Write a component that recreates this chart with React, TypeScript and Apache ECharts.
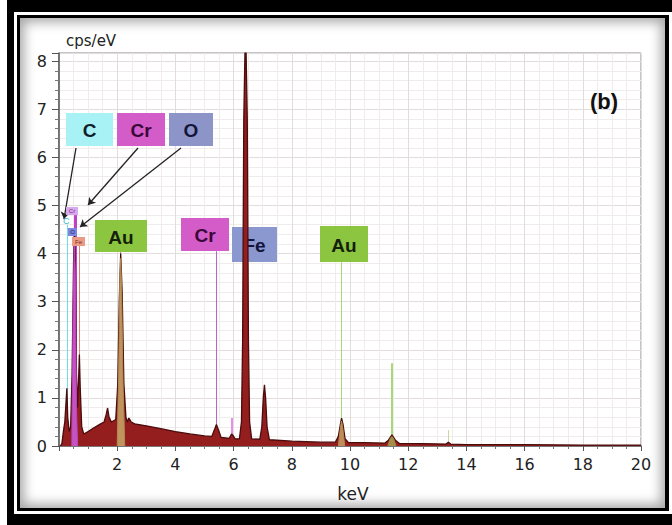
import React, { useEffect, useRef } from "react";
import * as echarts from "echarts";

// EDS spectrum (keV, cps/eV)
const spectrum: [number, number][] = [
  [0.05, 0.0], [0.1, 0.05], [0.15, 0.3], [0.2, 0.5], [0.24, 0.9], [0.27, 1.2], [0.3, 0.6],
  [0.35, 0.3], [0.4, 0.4], [0.45, 1.5], [0.5, 3.8], [0.525, 4.5], [0.56, 3.9], [0.6, 1.5],
  [0.64, 0.8], [0.68, 1.5], [0.7, 1.9], [0.73, 1.2], [0.78, 0.4], [0.85, 0.25], [1.0, 0.3],
  [1.2, 0.38], [1.4, 0.45], [1.55, 0.5], [1.62, 0.65], [1.67, 0.79], [1.72, 0.6], [1.8, 0.5],
  [1.95, 0.55], [2.02, 1.3], [2.07, 3.0], [2.12, 4.0], [2.17, 3.2], [2.23, 1.3], [2.3, 0.6],
  [2.35, 0.5], [2.4, 0.58], [2.48, 0.5], [2.6, 0.46], [3.0, 0.42], [3.5, 0.36], [4.0, 0.3],
  [4.5, 0.25], [5.0, 0.21], [5.25, 0.2], [5.33, 0.32], [5.41, 0.45], [5.49, 0.32], [5.57, 0.18],
  [5.85, 0.16], [5.93, 0.25], [5.98, 0.22], [6.05, 0.15], [6.2, 0.15], [6.27, 0.5], [6.31, 2.2],
  [6.35, 6.8], [6.39, 8.17], [6.43, 8.17], [6.47, 6.8], [6.51, 2.2], [6.55, 0.5], [6.62, 0.15],
  [6.9, 0.14], [6.97, 0.4], [7.02, 1.0], [7.06, 1.27], [7.1, 1.0], [7.15, 0.4], [7.23, 0.13],
  [8.0, 0.1], [9.0, 0.08], [9.5, 0.08], [9.6, 0.2], [9.67, 0.45], [9.71, 0.58], [9.76, 0.45],
  [9.83, 0.15], [9.95, 0.07], [10.5, 0.07], [11.2, 0.06], [11.32, 0.12], [11.44, 0.23],
  [11.56, 0.12], [11.7, 0.05], [12.5, 0.05], [13.3, 0.04], [13.38, 0.08], [13.46, 0.04],
  [14, 0.03], [16, 0.03], [18, 0.02], [20, 0.02],
];

// Fitted overlays
const auFit: [number, number][] = [
  [2.0, 0], [2.05, 1.5], [2.09, 3.4], [2.12, 3.9], [2.15, 3.3], [2.2, 1.3], [2.26, 0],
];
const auLaFit: [number, number][] = [[9.6, 0], [9.67, 0.38], [9.71, 0.52], [9.75, 0.38], [9.82, 0]];
const auLbFit: [number, number][] = [[11.3, 0], [11.38, 0.15], [11.44, 0.2], [11.5, 0.15], [11.58, 0]];
const lowFit: [number, number][] = [
  [0.44, 0], [0.48, 2.5], [0.525, 4.3], [0.56, 3.6], [0.6, 0.8], [0.64, 0],
];

// Element marker lines
const markerKeV = [0.277, 0.525, 0.573, 0.705, 2.12, 5.41, 5.95, 9.71, 11.44, 13.38];
const markerTop = [4.6, 4.37, 4.8, 4.16, 4.03, 4.05, 0.58, 3.83, 1.72, 0.33];
const markerColor = ["#6fdde6", "#6a78d0", "#c040c8", "#e08070", "#b08a50", "#c060d0", "#e890e8", "#a8d878", "#a8d878", "#c8d8a0"];
const markerWidth = [1, 1, 3, 1, 1, 1, 2, 1, 2, 1];

// Label boxes
const boxText = ["C", "Cr", "O", "Au", "Cr", "Fe", "Au"];
const boxFill = ["#a8f2f6", "#d35cc8", "#8d95c8", "#8cc540", "#d35cc8", "#8b98cf", "#8cc540"];
const boxTextColor = ["#10202a", "#3a0838", "#14143a", "#14200a", "#3a0838", "#14143a", "#14200a"];

const App: React.FC = () => {
  const ref = useRef<HTMLDivElement>(null);
  useEffect(() => {
    if (!ref.current) return;
    const chart = echarts.init(ref.current, undefined, { renderer: "svg" });
    const boxPos = [
      [66, 113, 47, 33], [117, 113, 48, 33], [169, 113, 44, 33],
      [95, 220, 52, 32], [181, 218, 48, 33], [232, 227, 45, 35], [320, 226, 48, 36],
    ];
    const graphics: any[] = [];
    boxText.forEach((t, i) => {
      graphics.push({
        type: "rect", z: 2,
        shape: { x: boxPos[i][0], y: boxPos[i][1], width: boxPos[i][2], height: boxPos[i][3] },
        style: { fill: boxFill[i] },
      });
      graphics.push({
        type: "text", z: 2,
        x: boxPos[i][0] + boxPos[i][2] / 2,
        y: boxPos[i][1] + boxPos[i][3] / 2 + 1,
        style: {
          text: t, fill: boxTextColor[i], font: "bold 19px 'Liberation Sans', Arial, sans-serif",
          align: "center", verticalAlign: "middle",
        },
      });
    });
    // tiny labels near the low-energy peaks
    const tiny = [
      { t: "Cr", x: 66, y: 207, w: 12, h: 8, fill: "#d8a8ec", c: "#7a2a8a" },
      { t: "O", x: 68, y: 228, w: 9, h: 8, fill: "#7a86e0", c: "#202060" },
      { t: "Fe", x: 72, y: 237, w: 13, h: 9, fill: "#eb9a86", c: "#803020" },
    ];
    tiny.forEach((s) => {
      graphics.push({ type: "rect", z: 20, shape: { x: s.x, y: s.y, width: s.w, height: s.h }, style: { fill: s.fill } });
      graphics.push({
        type: "text", z: 20, x: s.x + s.w / 2, y: s.y + s.h / 2,
        style: { text: s.t, fill: s.c, font: "6px sans-serif", align: "center", verticalAlign: "middle" },
      });
    });
    graphics.push({
      type: "text", x: 63, y: 216, z: 20,
      style: { text: "C", fill: "#40b8c8", font: "9px sans-serif" },
    });
    graphics.push({
      type: "text", x: 66, y: 41, z: 20,
      style: { text: "cps/eV", fill: "#222", font: "15px 'DejaVu Sans', sans-serif", verticalAlign: "middle" },
    });
    graphics.push({
      type: "text", x: 353, y: 494, z: 20,
      style: { text: "keV", fill: "#222", font: "17px 'DejaVu Sans', sans-serif", align: "center", verticalAlign: "middle" },
    });
    graphics.push({
      type: "text", x: 604, y: 101, z: 20,
      style: { text: "(b)", fill: "#111", font: "bold 22px 'Liberation Sans', Arial, sans-serif", align: "center", verticalAlign: "middle" },
    });

    const arrows = [
      [[76, 148], [64, 219]],
      [[138, 148], [88, 205]],
      [[181, 148], [80, 227]],
    ];

    chart.setOption({
      animation: false,
      grid: {
        left: 59, right: 31, top: 53, bottom: 79,
        show: true, backgroundColor: "#ffffff", borderColor: "#8a8a8a", borderWidth: 1,
      },
      xAxis: {
        type: "value", min: 0, max: 20, interval: 2,
        axisLine: { show: true, onZero: false, lineStyle: { color: "#555", width: 1.5 } },
        axisTick: { show: true, length: 5, lineStyle: { color: "#555" } },
        minorTick: { show: true, splitNumber: 4, length: 3, lineStyle: { color: "#777" } },
        axisLabel: { showMinLabel: false, color: "#222", fontSize: 16, fontFamily: "DejaVu Sans", margin: 10 },
        splitLine: { show: true, lineStyle: { color: "#e2dcdc", width: 1 } },
        minorSplitLine: { show: true, lineStyle: { color: "#f0ecec", width: 1 } },
      },
      yAxis: {
        type: "value", min: 0, max: 8.17, interval: 1,
        axisLine: { show: true, lineStyle: { color: "#555", width: 1.5 } },
        axisTick: { show: true, length: 7, lineStyle: { color: "#555" } },
        minorTick: { show: true, splitNumber: 5, length: 4, lineStyle: { color: "#777" } },
        axisLabel: { showMaxLabel: false, color: "#222", fontSize: 16, fontFamily: "DejaVu Sans", margin: 12 },
        splitLine: { show: true, lineStyle: { color: "#e2dcdc", width: 1 } },
        minorSplitLine: { show: true, lineStyle: { color: "#f0ecec", width: 1 } },
      },
      graphic: { elements: graphics },
      series: [
        {
          type: "line", name: "spectrum", data: spectrum, symbol: "none", z: 10,
          lineStyle: { color: "#4a0c0c", width: 1.3 },
          areaStyle: { color: "#941d1d", opacity: 1 },
        },
        {
          type: "line", name: "Au fit", data: auFit, symbol: "none", z: 11,
          lineStyle: { color: "#b08a50", width: 1 },
          areaStyle: { color: "#c39a62", opacity: 0.95 },
        },
        {
          type: "line", name: "Au La fit", data: auLaFit, symbol: "none", z: 11,
          lineStyle: { color: "#b08a50", width: 1 },
          areaStyle: { color: "#c39a62", opacity: 0.9 },
        },
        {
          type: "line", name: "Au Lb fit", data: auLbFit, symbol: "none", z: 11,
          lineStyle: { color: "#9a8a40", width: 1 },
          areaStyle: { color: "#a89a50", opacity: 0.9 },
        },
        {
          type: "line", name: "low fit", data: lowFit, symbol: "none", z: 11,
          lineStyle: { color: "#c040c8", width: 1 },
          areaStyle: { color: "#c85cd0", opacity: 0.9 },
        },
        {
          type: "line", name: "markers", data: [], symbol: "none", z: 12,
          markLine: {
            silent: true, symbol: ["none", "none"], label: { show: false },
            data: markerKeV.map((k, i) => [
              { coord: [k, 0], lineStyle: { color: markerColor[i], width: markerWidth[i], type: "solid" } },
              { coord: [k, markerTop[i]] },
            ]),
          },
        },
        {
          type: "line", name: "arrows", data: [], symbol: "none", z: 13,
          markLine: {
            silent: true, symbol: ["none", "arrow"], symbolSize: 7, label: { show: false },
            lineStyle: { color: "#222", width: 1.3, type: "solid" },
            data: arrows.map((a) => [{ x: a[0][0], y: a[0][1] }, { x: a[1][0], y: a[1][1] }]),
          },
        },
      ],
    });
    return () => chart.dispose();
  }, []);

  return (
    <div style={{ position: "fixed", left: 0, top: 0, width: 672, height: 525, background: "#fff", overflow: "hidden" }}>
      <div style={{ position: "absolute", left: 7, top: 0, width: 665, height: 525, background: "#000" }} />
      <div style={{ position: "absolute", left: 14, top: 12, width: 658, height: 502, background: "#fff" }} />
      <div style={{ position: "absolute", left: 17, top: 15, width: 652, height: 496, background: "#000" }} />
      <div
        style={{
          position: "absolute", left: 20, top: 18, width: 645, height: 490, background: "#fff",
          boxShadow: "inset 0 0 12px 4px rgba(0,0,0,0.35)",
        }}
      />
      <div ref={ref} style={{ position: "absolute", left: 0, top: 0, width: 672, height: 525 }} />
    </div>
  );
};

export default App;
